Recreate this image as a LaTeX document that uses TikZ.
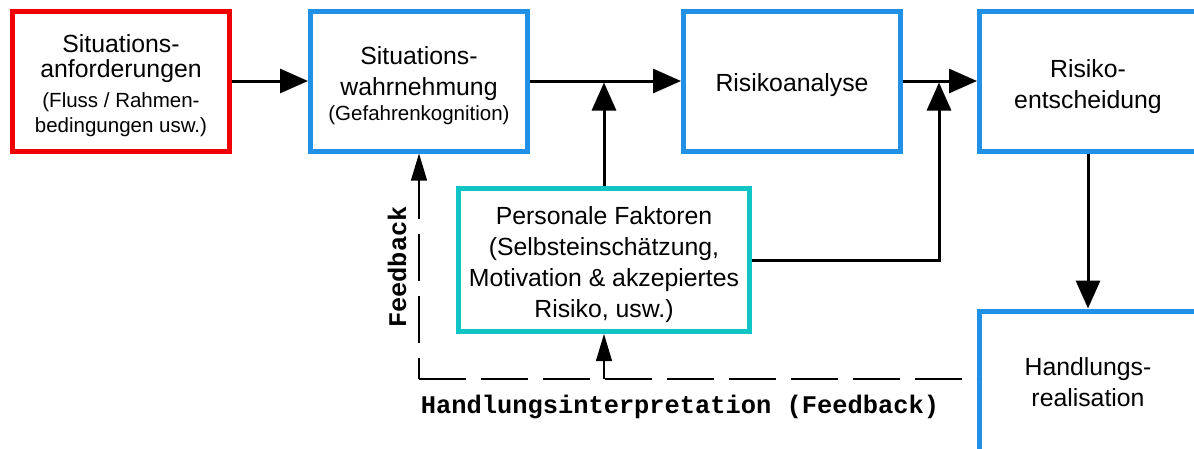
\documentclass[tikz,border=0pt]{standalone}
\usepackage{fontspec}
\setmainfont{Liberation Sans}
\newfontfamily\fbmono{Liberation Mono}
\usetikzlibrary{arrows.meta}

\definecolor{boxred}{RGB}{240,0,0}
\definecolor{boxblue}{RGB}{33,145,232}
\definecolor{boxcyan}{RGB}{18,196,196}

% wide line spacing for the main labels, tight for the mixed-size ones
\newcommand\bigtxt{\fontsize{24.8}{31}\selectfont}
\newcommand\tighttxt{\fontsize{24.8}{25}\selectfont}
\newcommand\smalltxt{\fontsize{20.5}{25}\selectfont}

\tikzset{
  box/.style={draw, line width=5pt, minimum width=217pt, minimum height=140pt,
    inner sep=0pt},
  txt/.style={align=center, inner sep=0pt, font=\bigtxt, anchor=base},
  flow/.style={line width=3pt, -{Triangle[length=28pt,width=24pt]}},
  fbline/.style={line width=1.1pt},
  fbtip/.style={-{Triangle[length=27pt,width=16pt]}},
  fbtext/.style={font=\fbmono\bfseries\fontsize{25.4}{28}\selectfont, inner sep=0pt}
}

\begin{document}
\begin{tikzpicture}[x=1pt,y=-1pt]
\useasboundingbox (0,0) rectangle (1194,448);
\fill[white] (0,0) rectangle (1194,448);
\clip (0,0) rectangle (1194,448);

% boxes
\node[box, draw=boxred] (req) at (121,81) {};
\node[box, draw=boxblue] (sw) at (419,81) {};
\node[box, draw=boxblue] (ra) at (792,81) {};
\node[box, draw=boxblue] (re) at (1088,81) {};
\node[box, draw=boxcyan, minimum width=291pt, minimum height=143pt] (pf) at (604,260) {};
\node[box, draw=boxblue] (hr) at (1088,381) {};

% box labels (placed by the baseline of their last line)
\node[txt, font=\tighttxt] (reqtxt) at (req.center |- 0,132)
  {Situations-\\anforderungen\\[5pt]{\smalltxt (Fluss / Rahmen-}\\{\smalltxt bedingungen usw.)}};
\node[txt, font=\tighttxt] (swtxt) at (sw.center |- 0,120)
  {Situations-\\[6pt]wahrnehmung\\{\smalltxt (Gefahrenkognition)}};
\node[txt] (ratxt) at (ra.center |- 0,91) {Risikoanalyse};
\node[txt] (retxt) at (re.center |- 0,108) {Risiko-\\entscheidung};
\node[txt] (pftxt) at (pf.center |- 0,317)
  {Personale Faktoren\\(Selbsteinschätzung,\\Motivation \& akzepiertes\\Risiko, usw.)};
\node[txt] (hrtxt) at (hr.center |- 0,406) {Handlungs-\\realisation};

% main flow
\coordinate (j2) at (939,81);
\draw[flow] (req.east) -- (sw.west);
\draw[flow] (sw.east) -- (ra.west);
\draw[flow, shorten >=1.5pt] (pf.north) -- (pf.north |- sw.east);
\draw[flow] (ra.east) -- (re.west);
\draw[flow, shorten >=1.5pt] (pf.east) -| (j2);
\draw[flow] (re.south) -- (hr.north);

% feedback loop
\coordinate (fbc) at (419,379);
\draw[fbline, dash pattern=on 47pt off 15pt] (fbc) -- (fbc -| hr.west);
\draw[fbline, fbtip, dash pattern=on 47pt off 15pt, dash phase=26pt] (fbc) -- (sw.south);
\draw[fbline, fbtip] (fbc -| pf.south) -- (pf.south);

\node[fbtext, rotate=90] (fblabel) at (397,267) {Feedback};
\node[fbtext] (hilabel) at (680,407) {Handlungsinterpretation (Feedback)};
\end{tikzpicture}
\end{document}
